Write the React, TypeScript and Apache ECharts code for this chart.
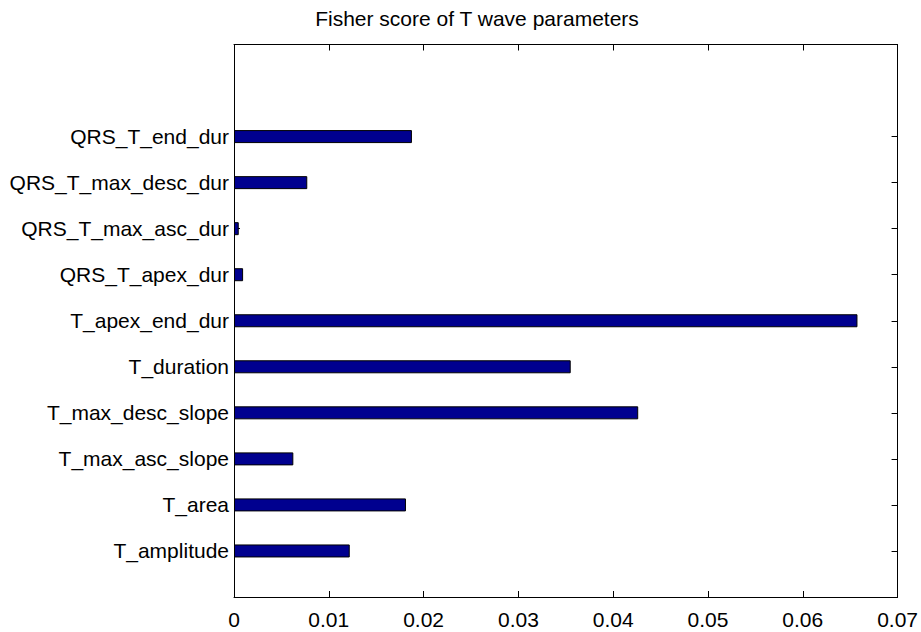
import React, { useEffect, useRef } from "react";
import * as echarts from "echarts";

const categories = [
  "T_amplitude",
  "T_area",
  "T_max_asc_slope",
  "T_max_desc_slope",
  "T_duration",
  "T_apex_end_dur",
  "QRS_T_apex_dur",
  "QRS_T_max_asc_dur",
  "QRS_T_max_desc_dur",
  "QRS_T_end_dur",
];
const fisherScores = [0.01221, 0.01814, 0.00626, 0.04264, 0.03552, 0.06577, 0.00096, 0.0005, 0.00773, 0.01877];
const xTicks = [0, 0.01, 0.02, 0.03, 0.04, 0.05, 0.06, 0.07];
const titleText = "Fisher score of T wave parameters";

const FONT = "'Liberation Sans', Arial, Helvetica, sans-serif";

export default function App() {
  const ref = useRef<HTMLDivElement>(null);
  useEffect(() => {
    if (!ref.current) return;
    const chart = echarts.init(ref.current, null, { renderer: "svg" });
    // pad the axis: slot 0 empty at bottom, slots 11 and 12 empty at top
    const yData = ["", ...categories, " ", "  "];
    const barData = [null, ...fisherScores, null, null];
    const tickShown = (i: number) => i >= 1 && i <= categories.length;
    const xMin = xTicks[0];
    const xMax = xTicks[xTicks.length - 1];
    const xInt = xTicks[1] - xTicks[0];
    const lineStyle = { color: "#000", width: 1 };
    const xAxisBase = {
      type: "value",
      min: xMin,
      max: xMax,
      interval: xInt,
      splitLine: { show: false },
      axisLine: { show: true, onZero: false, lineStyle },
      axisTick: { show: true, inside: true, length: 6, lineStyle },
    };
    const yAxisBase = {
      type: "category",
      data: yData,
      boundaryGap: false,
      splitLine: { show: false },
      axisLine: { show: true, onZero: false, lineStyle },
      axisTick: { show: true, inside: true, length: 6, interval: (i: number) => tickShown(i), lineStyle },
    };
    chart.setOption({
      animation: false,
      backgroundColor: "#fff",
      textStyle: { fontFamily: FONT },
      grid: { left: 234, right: 21, top: 44.5, bottom: 35, containLabel: false },
      graphic: [
        {
          type: "text",
          x: 477,
          y: 8,
          style: {
            text: titleText,
            fontFamily: FONT,
            fontSize: 21,
            fill: "#000",
            textAlign: "center",
            textVerticalAlign: "top",
          },
        },
      ],
      xAxis: [
        {
          ...xAxisBase,
          position: "bottom",
          axisLabel: {
            show: true,
            margin: 12,
            color: "#000",
            fontSize: 21,
            fontFamily: FONT,
            formatter: (v: number) => (Math.abs(v) < 1e-9 ? "0" : v.toFixed(2)),
          },
        },
        { ...xAxisBase, position: "top", axisLabel: { show: false } },
      ],
      yAxis: [
        {
          ...yAxisBase,
          position: "left",
          axisLabel: {
            show: true,
            interval: 0,
            margin: 5,
            color: "#000",
            fontSize: 21,
            fontFamily: FONT,
          },
        },
        { ...yAxisBase, position: "right", axisLabel: { show: false } },
      ],
      series: [
        {
          type: "bar",
          xAxisIndex: 0,
          yAxisIndex: 0,
          data: barData,
          barWidth: 13,
          itemStyle: { color: "#00008F", borderColor: "#000", borderWidth: 1 },
        },
      ],
    });
    return () => chart.dispose();
  }, []);
  return (
    <div
      ref={ref}
      style={{ position: "fixed", left: 0, top: 0, width: 921, height: 632, background: "#fff" }}
    />
  );
}
